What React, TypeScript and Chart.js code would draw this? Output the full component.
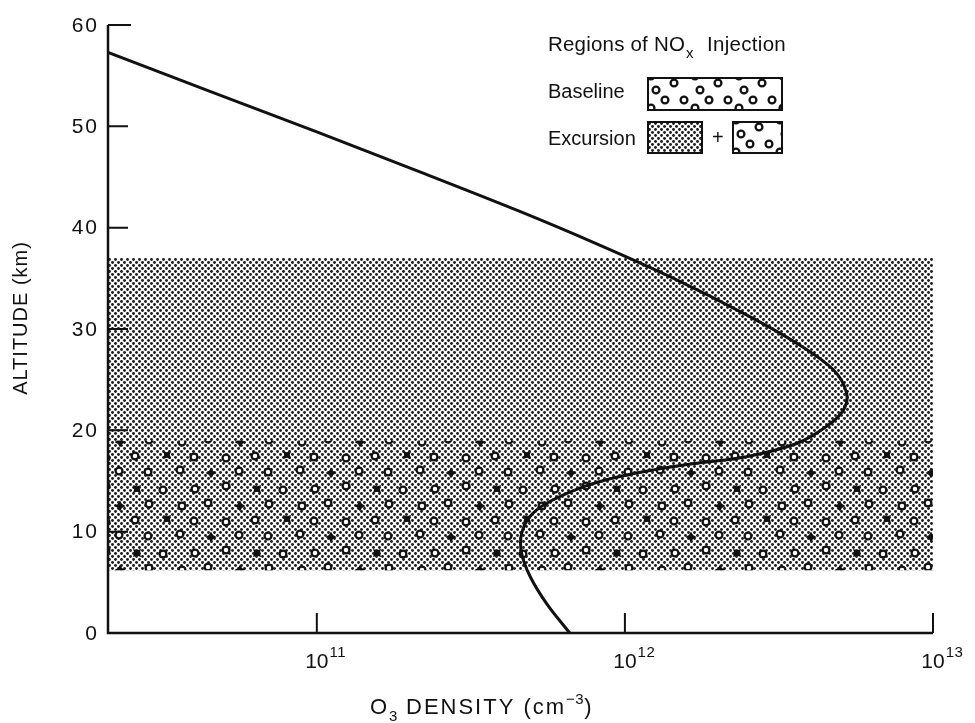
import React, { useEffect, useRef } from 'react';
import { Chart, registerables } from 'chart.js';

Chart.register(...registerables);

// Ozone number density profile (cm^-3) against altitude (km)
const densityCm3 = [
  2.1e10, 4.5e10, 1.0e11, 2.16e11, 4.56e11, 8.1e11, 1.45e12, 2.48e12, 3.61e12,
  4.74e12, 5.24e12, 5.12e12, 4.52e12, 3.61e12, 2.48e12, 1.71e12, 1.24e12, 9.16e11, 7.14e11,
  5.57e11, 4.92e11, 4.62e11, 4.62e11, 4.92e11, 5.57e11, 6.62e11,
];
const altitudeKm = [
  57.3, 53.45, 49.45, 45.5, 41.6, 38.4, 34.95, 31.4, 28.6,
  26.0, 23.7, 22.0, 20.4, 18.7, 17.4, 16.75, 16.1, 15.3, 14.3,
  12.8, 11.5, 9.8, 7.9, 5.6, 2.9, 0,
];

// NOx injection layers (bottom, top) in km
const excursionLayer = [6.2, 37];
const baselineLayer = [6.2, 19];

// Axis ranges and ticks
const densityRange = [2.1e10, 1e13];
const altitudeRange = [0, 60];
const densityTicks = [1e11, 1e12, 1e13];
const altitudeTicks = [0, 10, 20, 30, 40, 50, 60];

const FONT = "'Liberation Sans', Arial, Helvetica, sans-serif";
const INK = '#111';

function setFont(ctx: CanvasRenderingContext2D, size: number, spacing = 0) {
  ctx.font = `${size}px ${FONT}`;
  (ctx as any).letterSpacing = `${spacing}px`;
}

// Fine halftone dots
function makeDotPattern(ctx: CanvasRenderingContext2D): CanvasPattern {
  const c = document.createElement('canvas');
  c.width = 6;
  c.height = 6;
  const g = c.getContext('2d')!;
  g.fillStyle = '#1c1c1c';
  for (const [x, y] of [[1.5, 1.5], [4.5, 4.5]]) {
    g.beginPath();
    g.arc(x, y, 1.45, 0, Math.PI * 2);
    g.fill();
  }
  return ctx.createPattern(c, 'repeat')!;
}

function drawRing(g: CanvasRenderingContext2D, x: number, y: number) {
  g.beginPath();
  g.arc(x, y, 3.4, 0, Math.PI * 2);
  g.fillStyle = '#fff';
  g.fill();
  g.lineWidth = 2.3;
  g.strokeStyle = INK;
  g.stroke();
}

function drawStar(g: CanvasRenderingContext2D, x: number, y: number, rot: number) {
  g.beginPath();
  for (let i = 0; i < 8; i++) {
    const r = i % 2 === 0 ? 5.6 : 2.8;
    const a = rot + (i * Math.PI) / 4;
    const px = x + r * Math.cos(a);
    const py = y + r * Math.sin(a);
    if (i === 0) g.moveTo(px, py);
    else g.lineTo(px, py);
  }
  g.closePath();
  g.fillStyle = INK;
  g.fill();
}

// Staggered rings with some filled blots, as in the baseline layer
function makeRingPattern(ctx: CanvasRenderingContext2D): CanvasPattern {
  const W = 120;
  const H = 64;
  const c = document.createElement('canvas');
  c.width = W;
  c.height = H;
  const g = c.getContext('2d')!;
  const kinds = ['o', 's', 'o', 'o', 'o', 'o', 's', 'o', 's', 'o', 'o', 'o', 'o', 'o', 'o', 's'];
  const jitter = [
    [0, 0], [2, -1], [-1, 1], [1, 2], [-2, 0], [0, -2], [1, 1], [-1, -1],
    [2, 1], [-2, 2], [0, 1], [1, -2], [-1, 0], [2, 2], [-2, -1], [0, 2],
  ];
  for (let r = 0; r < 4; r++) {
    for (let col = 0; col < 4; col++) {
      const k = r * 4 + col;
      const x = 15 + 30 * col + (r % 2 ? 15 : 0) + jitter[k][0];
      const y = 8 + 16 * r + jitter[k][1];
      for (const dx of [-W, 0, W]) {
        for (const dy of [-H, 0, H]) {
          if (kinds[k] === 'o') drawRing(g, x + dx, y + dy);
          else drawStar(g, x + dx, y + dy, k % 3 === 0 ? 0 : Math.PI / 4);
        }
      }
    }
  }
  return ctx.createPattern(c, 'repeat')!;
}

// Sparse rings for the key swatches
function makeKeyRingPattern(ctx: CanvasRenderingContext2D): CanvasPattern {
  const W = 44;
  const H = 32;
  const c = document.createElement('canvas');
  c.width = W;
  c.height = H;
  const g = c.getContext('2d')!;
  const spots = [[8, 12], [26, 5], [36, 22], [17, 22], [3, 30]];
  for (const [x, y] of spots) {
    for (const dx of [-W, 0, W]) {
      for (const dy of [-H, 0, H]) drawRing(g, x + dx, y + dy);
    }
  }
  return ctx.createPattern(c, 'repeat')!;
}

function fillSwatch(
  ctx: CanvasRenderingContext2D,
  pattern: CanvasPattern,
  x: number,
  y: number,
  w: number,
  h: number,
) {
  ctx.save();
  pattern.setTransform(new DOMMatrix().translate(x, y));
  ctx.fillStyle = '#fff';
  ctx.fillRect(x, y, w, h);
  ctx.fillStyle = pattern;
  ctx.fillRect(x, y, w, h);
  ctx.lineWidth = 2;
  ctx.strokeStyle = INK;
  ctx.strokeRect(x, y, w, h);
  ctx.restore();
}

export default function App() {
  const canvasRef = useRef<HTMLCanvasElement>(null);

  useEffect(() => {
    document.body.style.margin = '0';
    const canvas = canvasRef.current!;
    const ctx = canvas.getContext('2d')!;
    const dotPattern = makeDotPattern(ctx);
    const ringPattern = makeRingPattern(ctx);
    const keyDots = makeDotPattern(ctx);
    const keyRings = makeKeyRingPattern(ctx);

    const profile = densityCm3.map((x, i) => ({ x, y: altitudeKm[i] }));
    const layerTop = (top: number) => [
      { x: densityRange[0], y: top },
      { x: densityRange[1], y: top },
    ];

    const frame = {
      id: 'frame',
      beforeDraw(chart: Chart) {
        const c = chart.ctx;
        c.save();
        c.fillStyle = '#fff';
        c.fillRect(0, 0, chart.width, chart.height);
        c.restore();
      },
      afterDraw(chart: Chart) {
        const c = chart.ctx;
        const { left, right, top, bottom } = chart.chartArea;
        const xs = chart.scales.x;
        const ys = chart.scales.y;
        c.save();

        // axes
        c.strokeStyle = INK;
        c.lineWidth = 2.5;
        c.beginPath();
        c.moveTo(left, top);
        c.lineTo(left, bottom);
        c.lineTo(right, bottom);
        c.stroke();

        // inward ticks
        c.lineWidth = 2;
        c.beginPath();
        for (const v of altitudeTicks) {
          const py = ys.getPixelForValue(v);
          const len = v === altitudeRange[1] ? 23 : 20;
          c.moveTo(left, py);
          c.lineTo(left + len, py);
        }
        for (const v of densityTicks) {
          const px = xs.getPixelForValue(v);
          c.moveTo(px, bottom);
          c.lineTo(px, bottom - 20);
        }
        c.stroke();

        // tick labels
        c.fillStyle = INK;
        setFont(c, 21, 2);
        c.textAlign = 'right';
        c.textBaseline = 'middle';
        for (const v of altitudeTicks) {
          c.fillText(String(v), left - 9, ys.getPixelForValue(v) + 1);
        }
        c.textBaseline = 'alphabetic';
        for (const v of densityTicks) {
          const px = xs.getPixelForValue(v);
          setFont(c, 21, 0);
          c.textAlign = 'center';
          const base = '10';
          const w = c.measureText(base).width;
          c.fillText(base, px, bottom + 35);
          setFont(c, 15, 0.5);
          c.textAlign = 'left';
          c.fillText(String(Math.round(Math.log10(v))), px + w / 2 + 1, bottom + 24);
        }

        // x title: O3 DENSITY (cm-3)
        {
          const parts: [string, number, number][] = [
            ['O', 22, 0],
            ['3', 15, 7],
            [' DENSITY (cm', 22, 0],
            ['\u22123', 15, -10],
            [')', 22, 0],
          ];
          let total = 0;
          for (const [t, s] of parts) {
            setFont(c, s, s > 16 ? 2 : 0.5);
            total += c.measureText(t).width;
          }
          let x = left + (right - left) * 0.453 - total / 2;
          const base = bottom + 81;
          c.textAlign = 'left';
          for (const [t, s, dy] of parts) {
            setFont(c, s, s > 16 ? 2 : 0.5);
            c.fillText(t, x, base + dy);
            x += c.measureText(t).width;
          }
        }

        // y title
        c.save();
        c.translate(left - 87, top + 293);
        c.rotate(-Math.PI / 2);
        setFont(c, 20, 1);
        c.textAlign = 'center';
        c.textBaseline = 'middle';
        c.fillText('ALTITUDE (km)', 0, 0);
        c.restore();

        // key
        const kx = left + 440;
        const ky = top;
        c.textAlign = 'left';
        c.textBaseline = 'alphabetic';
        setFont(c, 20.5, 0.2);
        const head = 'Regions of NO';
        c.fillText(head, kx, ky + 26);
        const hw = c.measureText(head).width;
        setFont(c, 15, 0);
        c.fillText('x', kx + hw + 1, ky + 33);
        setFont(c, 20.5, 0.3);
        c.fillText('Injection', kx + 159, ky + 26);

        setFont(c, 20, 0);
        c.fillText('Baseline', kx, ky + 73);
        fillSwatch(c, keyRings, kx + 100, ky + 53, 134, 32);

        c.fillText('Excursion', kx, ky + 120);
        fillSwatch(c, keyDots, kx + 100, ky + 97, 54, 31);
        c.fillText('+', kx + 164, ky + 119);
        fillSwatch(c, keyRings, kx + 185, ky + 97, 49, 31);

        c.restore();
      },
    };

    const chart = new Chart(canvas, {
      type: 'scatter',
      data: {
        datasets: [
          {
            label: 'O3 density',
            data: profile,
            showLine: true,
            borderColor: INK,
            borderWidth: 3,
            pointRadius: 0,
            tension: 0.35,
            fill: false,
            order: 0,
          },
          {
            label: 'Baseline',
            data: layerTop(baselineLayer[1]),
            showLine: true,
            borderWidth: 0,
            pointRadius: 0,
            backgroundColor: ringPattern,
            fill: { value: baselineLayer[0] },
            order: 1,
          },
          {
            label: 'Excursion',
            data: layerTop(excursionLayer[1]),
            showLine: true,
            borderWidth: 0,
            pointRadius: 0,
            backgroundColor: dotPattern,
            fill: { value: excursionLayer[0] },
            order: 2,
          },
        ],
      },
      options: {
        animation: false,
        responsive: false,
        layout: { padding: { left: 108, right: 42, top: 25, bottom: 90 } },
        plugins: {
          legend: { display: false },
          tooltip: { enabled: false },
        },
        scales: {
          x: {
            type: 'logarithmic',
            min: densityRange[0],
            max: densityRange[1],
            display: false,
          },
          y: {
            type: 'linear',
            min: altitudeRange[0],
            max: altitudeRange[1],
            display: false,
          },
        },
      },
      plugins: [frame],
    });

    return () => chart.destroy();
  }, []);

  return (
    <div style={{ width: 975, height: 723, background: '#fff' }}>
      <canvas ref={canvasRef} width={975} height={723} style={{ display: 'block' }} />
    </div>
  );
}
